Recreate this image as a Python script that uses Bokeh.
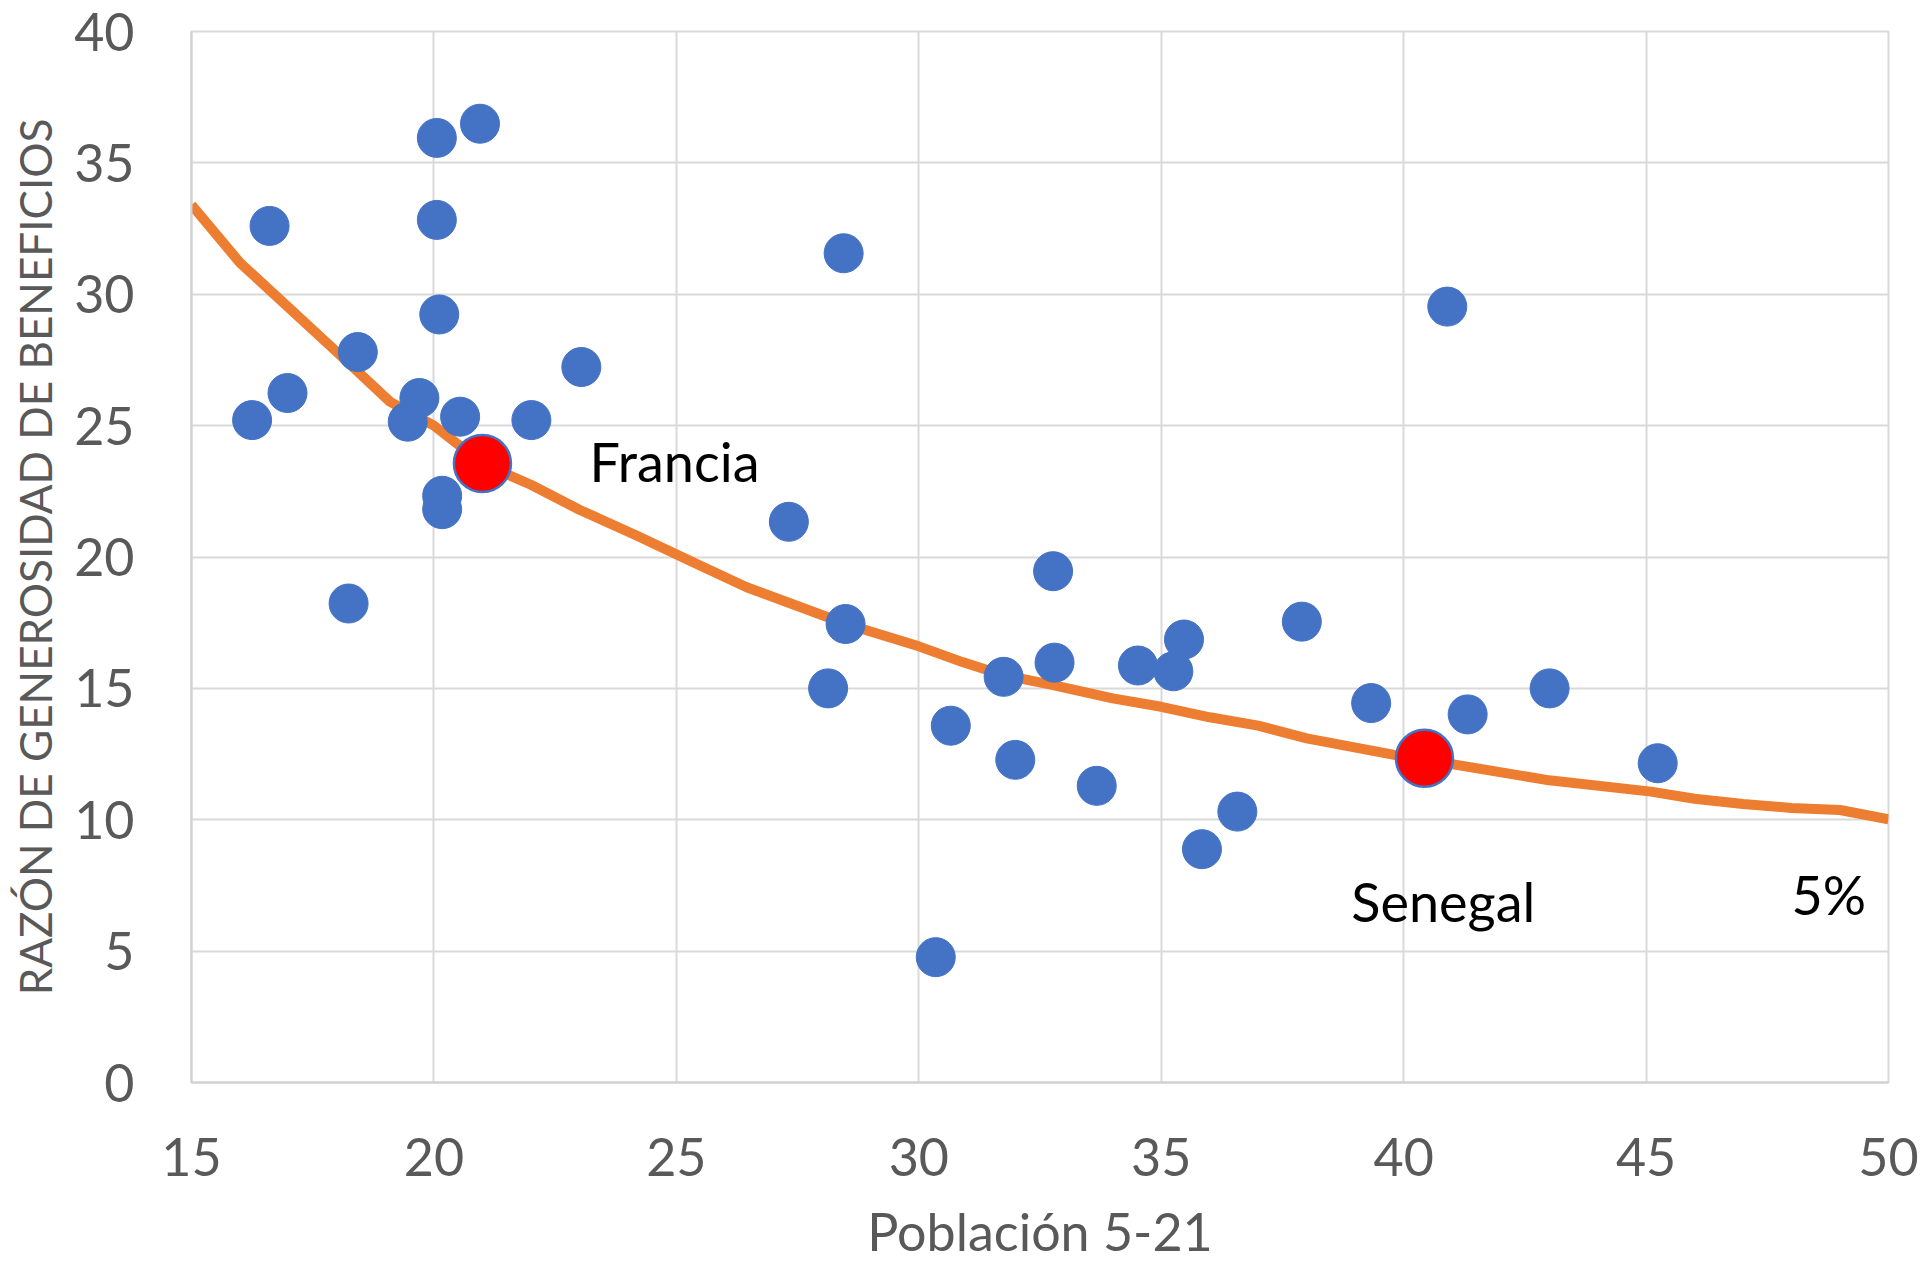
from bokeh.plotting import figure
from bokeh.models import Range1d, FixedTicker, ColumnDataSource, Label
from bokeh.embed import file_html
from bokeh.resources import INLINE

# ---- data ----
pop_5_21 = [16.25, 16.61, 16.98, 18.24, 18.43, 19.46, 19.70, 20.06, 20.06, 20.11,
            20.17, 20.17, 20.54, 20.95, 22.01, 23.04, 27.32, 28.45, 28.49, 28.13,
            30.35, 30.66, 31.75, 31.99, 32.77, 32.80, 33.67, 34.52, 35.25, 35.47,
            35.84, 36.57, 37.90, 39.33, 40.90, 41.32, 43.01, 45.24]
generosidad = [25.21, 32.60, 26.24, 18.23, 27.80, 25.15, 26.05, 35.95, 32.83, 29.23,
               22.33, 21.82, 25.34, 36.49, 25.21, 27.23, 21.34, 31.56, 17.45, 15.00,
               4.77, 13.58, 15.44, 12.28, 19.46, 15.98, 11.29, 15.87, 15.65, 16.86,
               8.88, 10.31, 17.54, 14.44, 29.53, 14.01, 15.00, 12.15]

highlight_names = ["Francia", "Senegal"]
highlight_x = [21.00, 40.43]
highlight_y = [23.56, 12.34]

curve_x = [15.0, 16.0, 18.0, 19.1, 20.0, 21.0, 22.0, 23.0, 24.2, 25.4, 26.45, 28.5,
           30.0, 30.9, 31.75, 32.7, 34.0, 35.0, 36.0, 37.0, 38.0, 40.0, 40.4, 43.0,
           45.1, 46.0, 47.0, 48.0, 49.0, 50.0]
curve_y = [33.4, 31.2, 27.8, 25.9, 25.0, 23.56, 22.75, 21.8, 20.8, 19.75, 18.85, 17.45,
           16.6, 16.0, 15.5, 15.15, 14.62, 14.3, 13.9, 13.58, 13.1, 12.4, 12.3, 11.5,
           11.07, 10.8, 10.6, 10.45, 10.37, 10.02]
curve_label = "5%"

x_ticks = [15, 20, 25, 30, 35, 40, 45, 50]
y_ticks = [0, 5, 10, 15, 20, 25, 30, 35, 40]
x_title = "Población 5-21"
y_title = "RAZÓN DE GENEROSIDAD DE BENEFICIOS"

FONT = "Lato"
GRID = "#D9D9D9"
TXT = "#595959"

p = figure(width=1929, height=1264, output_backend="svg", toolbar_location=None,
           x_range=Range1d(15, 50), y_range=Range1d(0, 40),
           min_border_left=191, min_border_right=41, min_border_top=31,
           min_border_bottom=176)
p.outline_line_color = GRID
p.outline_line_width = 2
p.background_fill_color = "white"
p.border_fill_color = "white"

for ax, ticks in ((p.xaxis[0], x_ticks), (p.yaxis[0], y_ticks)):
    ax.ticker = FixedTicker(ticks=ticks)
    ax.major_tick_line_color = None
    ax.minor_tick_line_color = None
    ax.axis_line_color = "#CFCFCF"
    ax.axis_line_width = 2
    ax.major_label_text_font = FONT
    ax.major_label_text_font_size = "52px"
    ax.major_label_text_color = TXT
    ax.axis_label_text_font = FONT
    ax.axis_label_text_font_style = "normal"
    ax.axis_label_text_color = TXT

p.xaxis.axis_label = x_title
p.yaxis.axis_label = y_title
p.xaxis.axis_label_text_font_size = "52px"
p.yaxis.axis_label_text_font_size = "44px"
p.xaxis.major_label_standoff = 49
p.yaxis.major_label_standoff = 51
p.xaxis.axis_label_standoff = 21
p.yaxis.axis_label_standoff = 10

p.xgrid.ticker = FixedTicker(ticks=x_ticks)
p.ygrid.ticker = FixedTicker(ticks=y_ticks)
p.grid.grid_line_color = GRID
p.grid.grid_line_width = 2

p.line(curve_x, curve_y, line_color="#ED7D31", line_width=10)

p.scatter(pop_5_21, generosidad, size=39, marker="circle",
          fill_color="#4472C4", line_color="#4472C4", line_width=1)

src_h = ColumnDataSource(dict(x=highlight_x, y=highlight_y, name=highlight_names))
p.scatter("x", "y", source=src_h, size=57, marker="circle",
          fill_color="#FF0000", line_color="#4472C4", line_width=2.5)

ann_style = dict(text_font=FONT, text_font_size="54px", text_color="black",
                 text_baseline="alphabetic", text_align="left")
p.add_layout(Label(x=23.21, y=23.63, text=highlight_names[0], **ann_style))
p.add_layout(Label(x=38.92, y=6.89, text=highlight_names[1], **ann_style))
p.add_layout(Label(x=48.0, y=7.15, text=curve_label, **ann_style))

open("out.html", "w").write(file_html(p, INLINE))
